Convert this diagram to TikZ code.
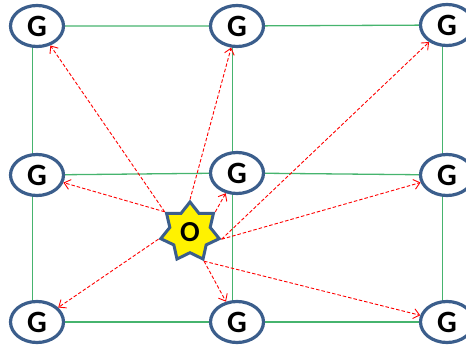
\documentclass[tikz,border=0pt]{standalone}
\usepackage{fontspec}
\setmainfont{Carlito}
\usetikzlibrary{shapes.geometric,arrows.meta,backgrounds}
\definecolor{gblue}{RGB}{59,94,140}
\definecolor{ggreen}{RGB}{70,180,110}
\begin{document}
\begin{tikzpicture}[x=1pt,y=-1pt,
  gnode/.style={ellipse,draw=gblue,line width=3.2pt,fill=white,minimum width=53pt,minimum height=41pt,inner sep=0pt,font=\fontsize{31}{31}\selectfont\bfseries},
  onode/.style={star,star points=7,star point ratio=1.45,draw=gblue,line width=3pt,fill=yellow,minimum size=60pt,inner sep=0pt,font=\fontsize{29}{29}\selectfont\bfseries},
  gridline/.style={draw=ggreen,line width=1.3pt},
  rarrow/.style={draw=red,line width=0.9pt,dash pattern=on 3.5pt off 2pt,-{Straight Barb[length=6pt,width=10pt]}}]
\useasboundingbox (0,0) rectangle (466,347);
\node[gnode] (TL) at (37,26) {G};
\node[gnode] (TM) at (237,26) {G};
\node[gnode] (TR) at (447,25) {G};
\node[gnode] (ML) at (37,175) {G};
\node[gnode] (MM) at (237,173) {G};
\node[gnode] (MR) at (447,175) {G};
\node[gnode] (BL) at (37,322) {G};
\node[gnode] (BM) at (237,322) {G};
\node[gnode] (BR) at (447,322) {G};
\node[onode] (O) at (190,232) {O};
\begin{pgfonlayer}{background}
\draw[gridline] (TL) -- (TM) -- (TR);
\draw[gridline] (ML) -- (MM) -- (MR);
\draw[gridline] (BL) -- (BM) -- (BR);
\draw[gridline] ([xshift=-4.5pt]TL.center) -- ([xshift=-4.5pt]ML.center) -- ([xshift=-4.5pt]BL.center);
\draw[gridline] ([xshift=-4.5pt]TM.center) -- ([xshift=-4.5pt]MM.center) -- ([xshift=-4.5pt]BM.center);
\draw[gridline] ([xshift=-4.5pt]TR.center) -- ([xshift=-4.5pt]MR.center) -- ([xshift=-4.5pt]BR.center);
\end{pgfonlayer}
\draw[rarrow] (O.outer point 2) -- (TL);
\draw[rarrow] (O.outer point 1) -- (TM);
\draw[rarrow] (O.outer point 6) -- (TR);
\draw[rarrow] (O.outer point 2) -- (ML);
\draw[rarrow] (O.outer point 7) -- (MM);
\draw[rarrow] (O.outer point 6) -- (MR);
\draw[rarrow] (O.outer point 3) -- (BL);
\draw[rarrow] (O.outer point 5) -- (BM);
\draw[rarrow] (O.outer point 5) -- (BR);
\end{tikzpicture}
\end{document}
